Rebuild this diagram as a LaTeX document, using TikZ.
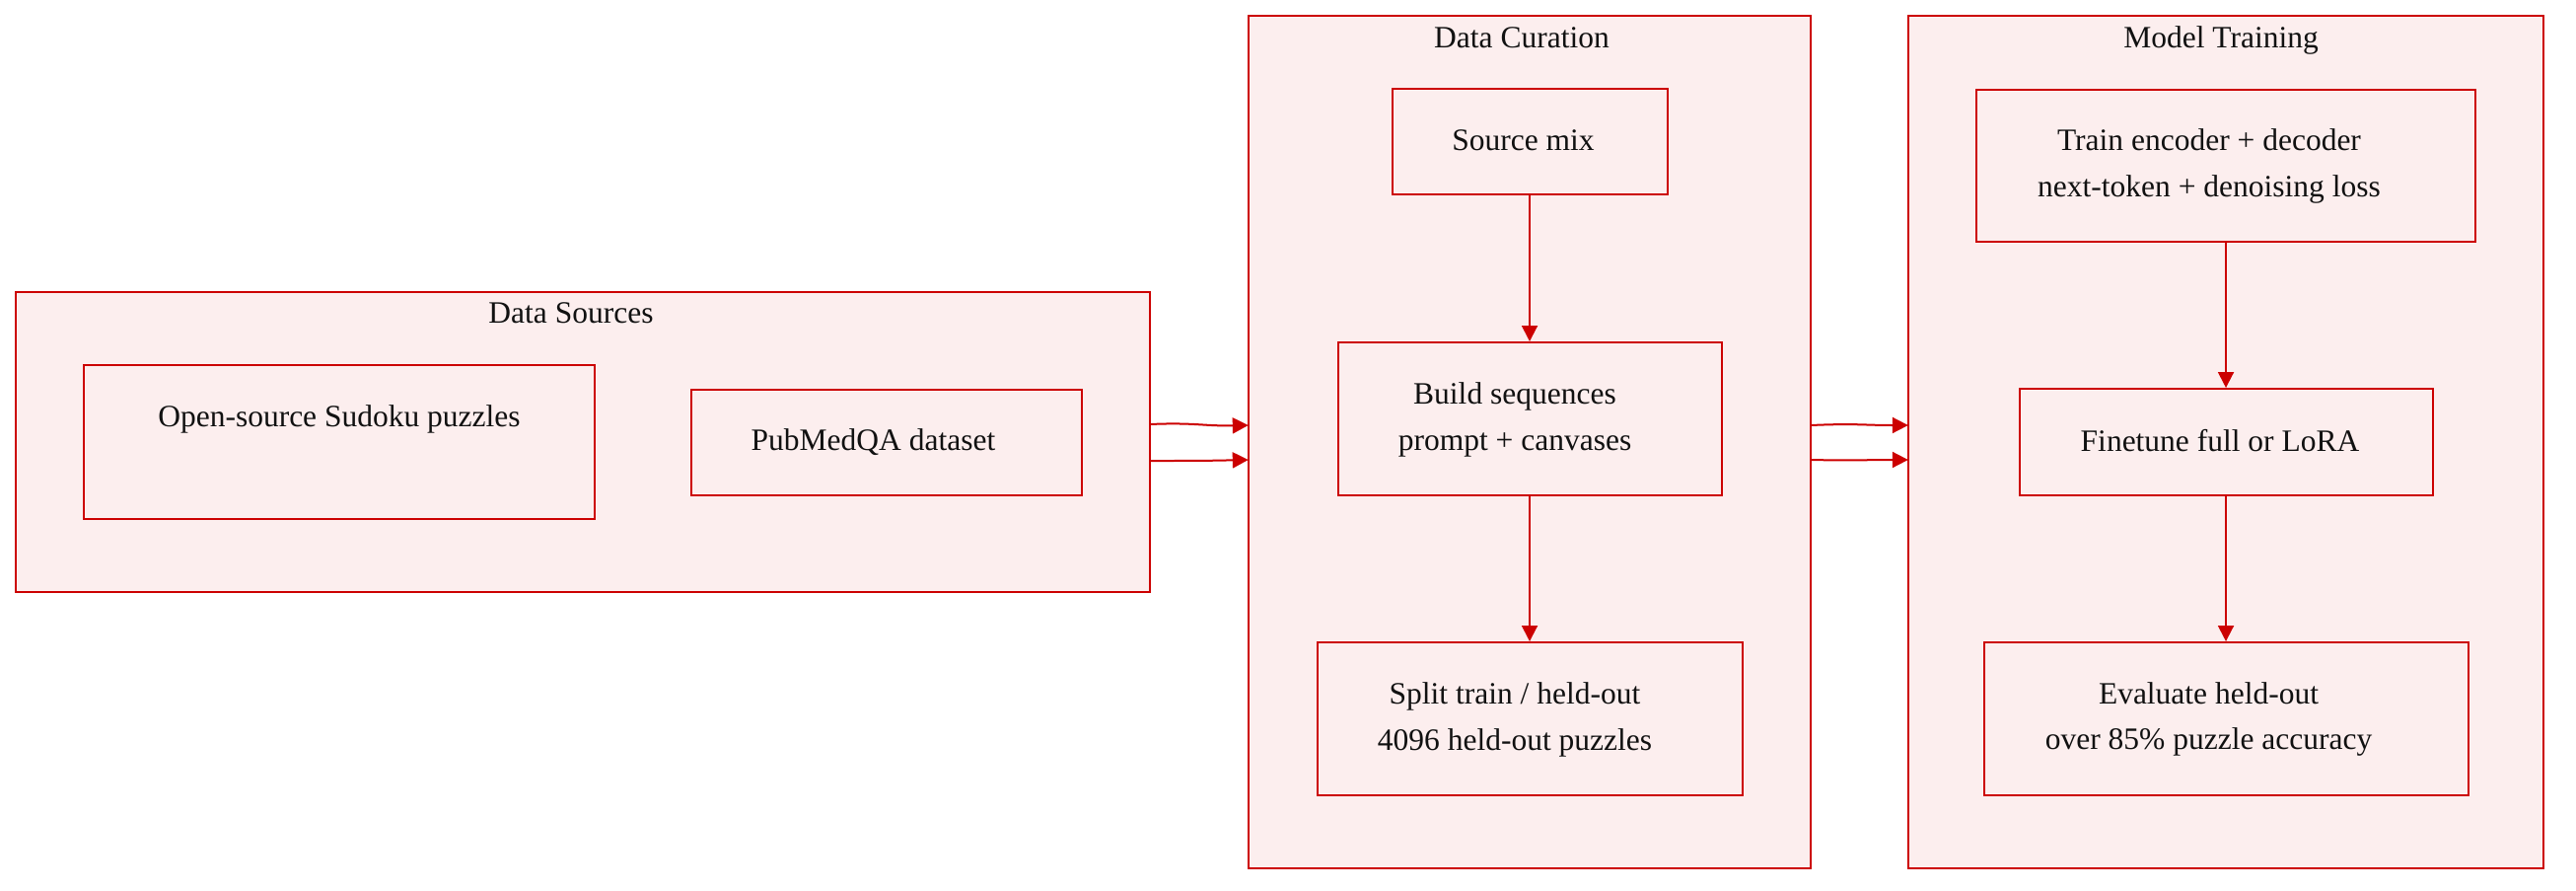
\documentclass[tikz,border=0pt]{standalone}
\usepackage{fontspec}
\setmainfont{Liberation Serif}
\usetikzlibrary{arrows.meta}
\definecolor{boxred}{RGB}{204,0,0}
\definecolor{boxfill}{RGB}{252,238,238}
\definecolor{txt}{RGB}{17,17,17}
\begin{document}
\begin{tikzpicture}[x=1pt,y=-1pt,
  cluster/.style={draw=boxred,fill=boxfill,line width=2pt},
  stepbox/.style={draw=boxred,fill=boxfill,line width=2pt},
  lbl/.style={anchor=base,inner sep=0pt,text=txt,font=\fontsize{31.5}{47}\selectfont},
  arr/.style={draw=boxred,line width=2pt,-{Triangle[length=16pt,width=16pt]}}]
\useasboundingbox (0,0) rectangle (2612,902);
% clusters
\path[cluster] (16,296) rectangle (1166,600);
\node[inner sep=0pt,minimum width=1150pt,minimum height=304pt] (ds) at (591,448) {};
\path[cluster] (1266,16) rectangle (1836,880);
\node[inner sep=0pt,minimum width=570pt,minimum height=864pt] (dc) at (1551,448) {};
\path[cluster] (1935,16) rectangle (2579,880);
\node[inner sep=0pt,minimum width=644pt,minimum height=864pt] (mt) at (2257,448) {};
\node[lbl] (tds) at (579,327) {Data Sources};
\node[lbl] (tdc) at (1543,48) {Data Curation};
\node[lbl] (tmt) at (2252,48) {Model Training};
% boxes
\node[stepbox,inner sep=0pt,minimum width=518pt,minimum height=156pt] (sudoku) at (344,448) {};
\node[lbl] (sudokut) at (344,432) {Open-source Sudoku puzzles};
\node[stepbox,inner sep=0pt,minimum width=396pt,minimum height=107pt] (pubmed) at (899,448) {};
\node[lbl] (pubmedt) at (885.5,456) {PubMedQA dataset};
\node[stepbox,inner sep=0pt,minimum width=279pt,minimum height=107pt] (srcmix) at (1551,143.5) {};
\node[lbl] (srcmixt) at (1544.5,152) {Source mix};
\node[stepbox,inner sep=0pt,minimum width=389pt,minimum height=155pt] (build) at (1551,424.5) {};
\node[lbl] (buildt1) at (1536,409) {Build sequences};
\node[lbl] (buildt2) at (1536,456) {prompt + canvases};
\node[stepbox,inner sep=0pt,minimum width=431pt,minimum height=155pt] (split) at (1551,728.5) {};
\node[lbl] (splitt1) at (1536,713) {Split train / held-out};
\node[lbl] (splitt2) at (1536,760) {4096 held-out puzzles};
\node[stepbox,inner sep=0pt,minimum width=506pt,minimum height=154pt] (train) at (2257,168) {};
\node[lbl] (traint1) at (2240,152) {Train encoder + decoder};
\node[lbl] (traint2) at (2240,199) {next-token + denoising loss};
\node[stepbox,inner sep=0pt,minimum width=419pt,minimum height=108pt] (finetune) at (2257,448) {};
\node[lbl] (finetunet) at (2251,457) {Finetune full or LoRA};
\node[stepbox,inner sep=0pt,minimum width=491pt,minimum height=155pt] (evaluate) at (2257,728.5) {};
\node[lbl] (evaluatet1) at (2239.5,713) {Evaluate held-out};
\node[lbl] (evaluatet2) at (2239.5,759) {over 85\% puzzle accuracy};
% arrows
\draw[arr] (srcmix.south) -- (build.north);
\draw[arr] (build.south) -- (split.north);
\draw[arr] (train.south) -- (finetune.north);
\draw[arr] (finetune.south) -- (evaluate.north);
\draw[arr] ([yshift=18pt]ds.east) .. controls +(45pt,2pt) and +(-45pt,-1pt) .. ([yshift=17pt]dc.west);
\draw[arr] ([yshift=-19pt]ds.east) .. controls +(45pt,0pt) and +(-45pt,-1pt) .. ([yshift=-18pt]dc.west);
\draw[arr] ([yshift=17pt]dc.east) .. controls +(45pt,2pt) and +(-45pt,0pt) .. ([yshift=17pt]mt.west);
\draw[arr] ([yshift=-18pt]dc.east) .. controls +(45pt,-1pt) and +(-45pt,0pt) .. ([yshift=-18pt]mt.west);
\end{tikzpicture}
\end{document}
